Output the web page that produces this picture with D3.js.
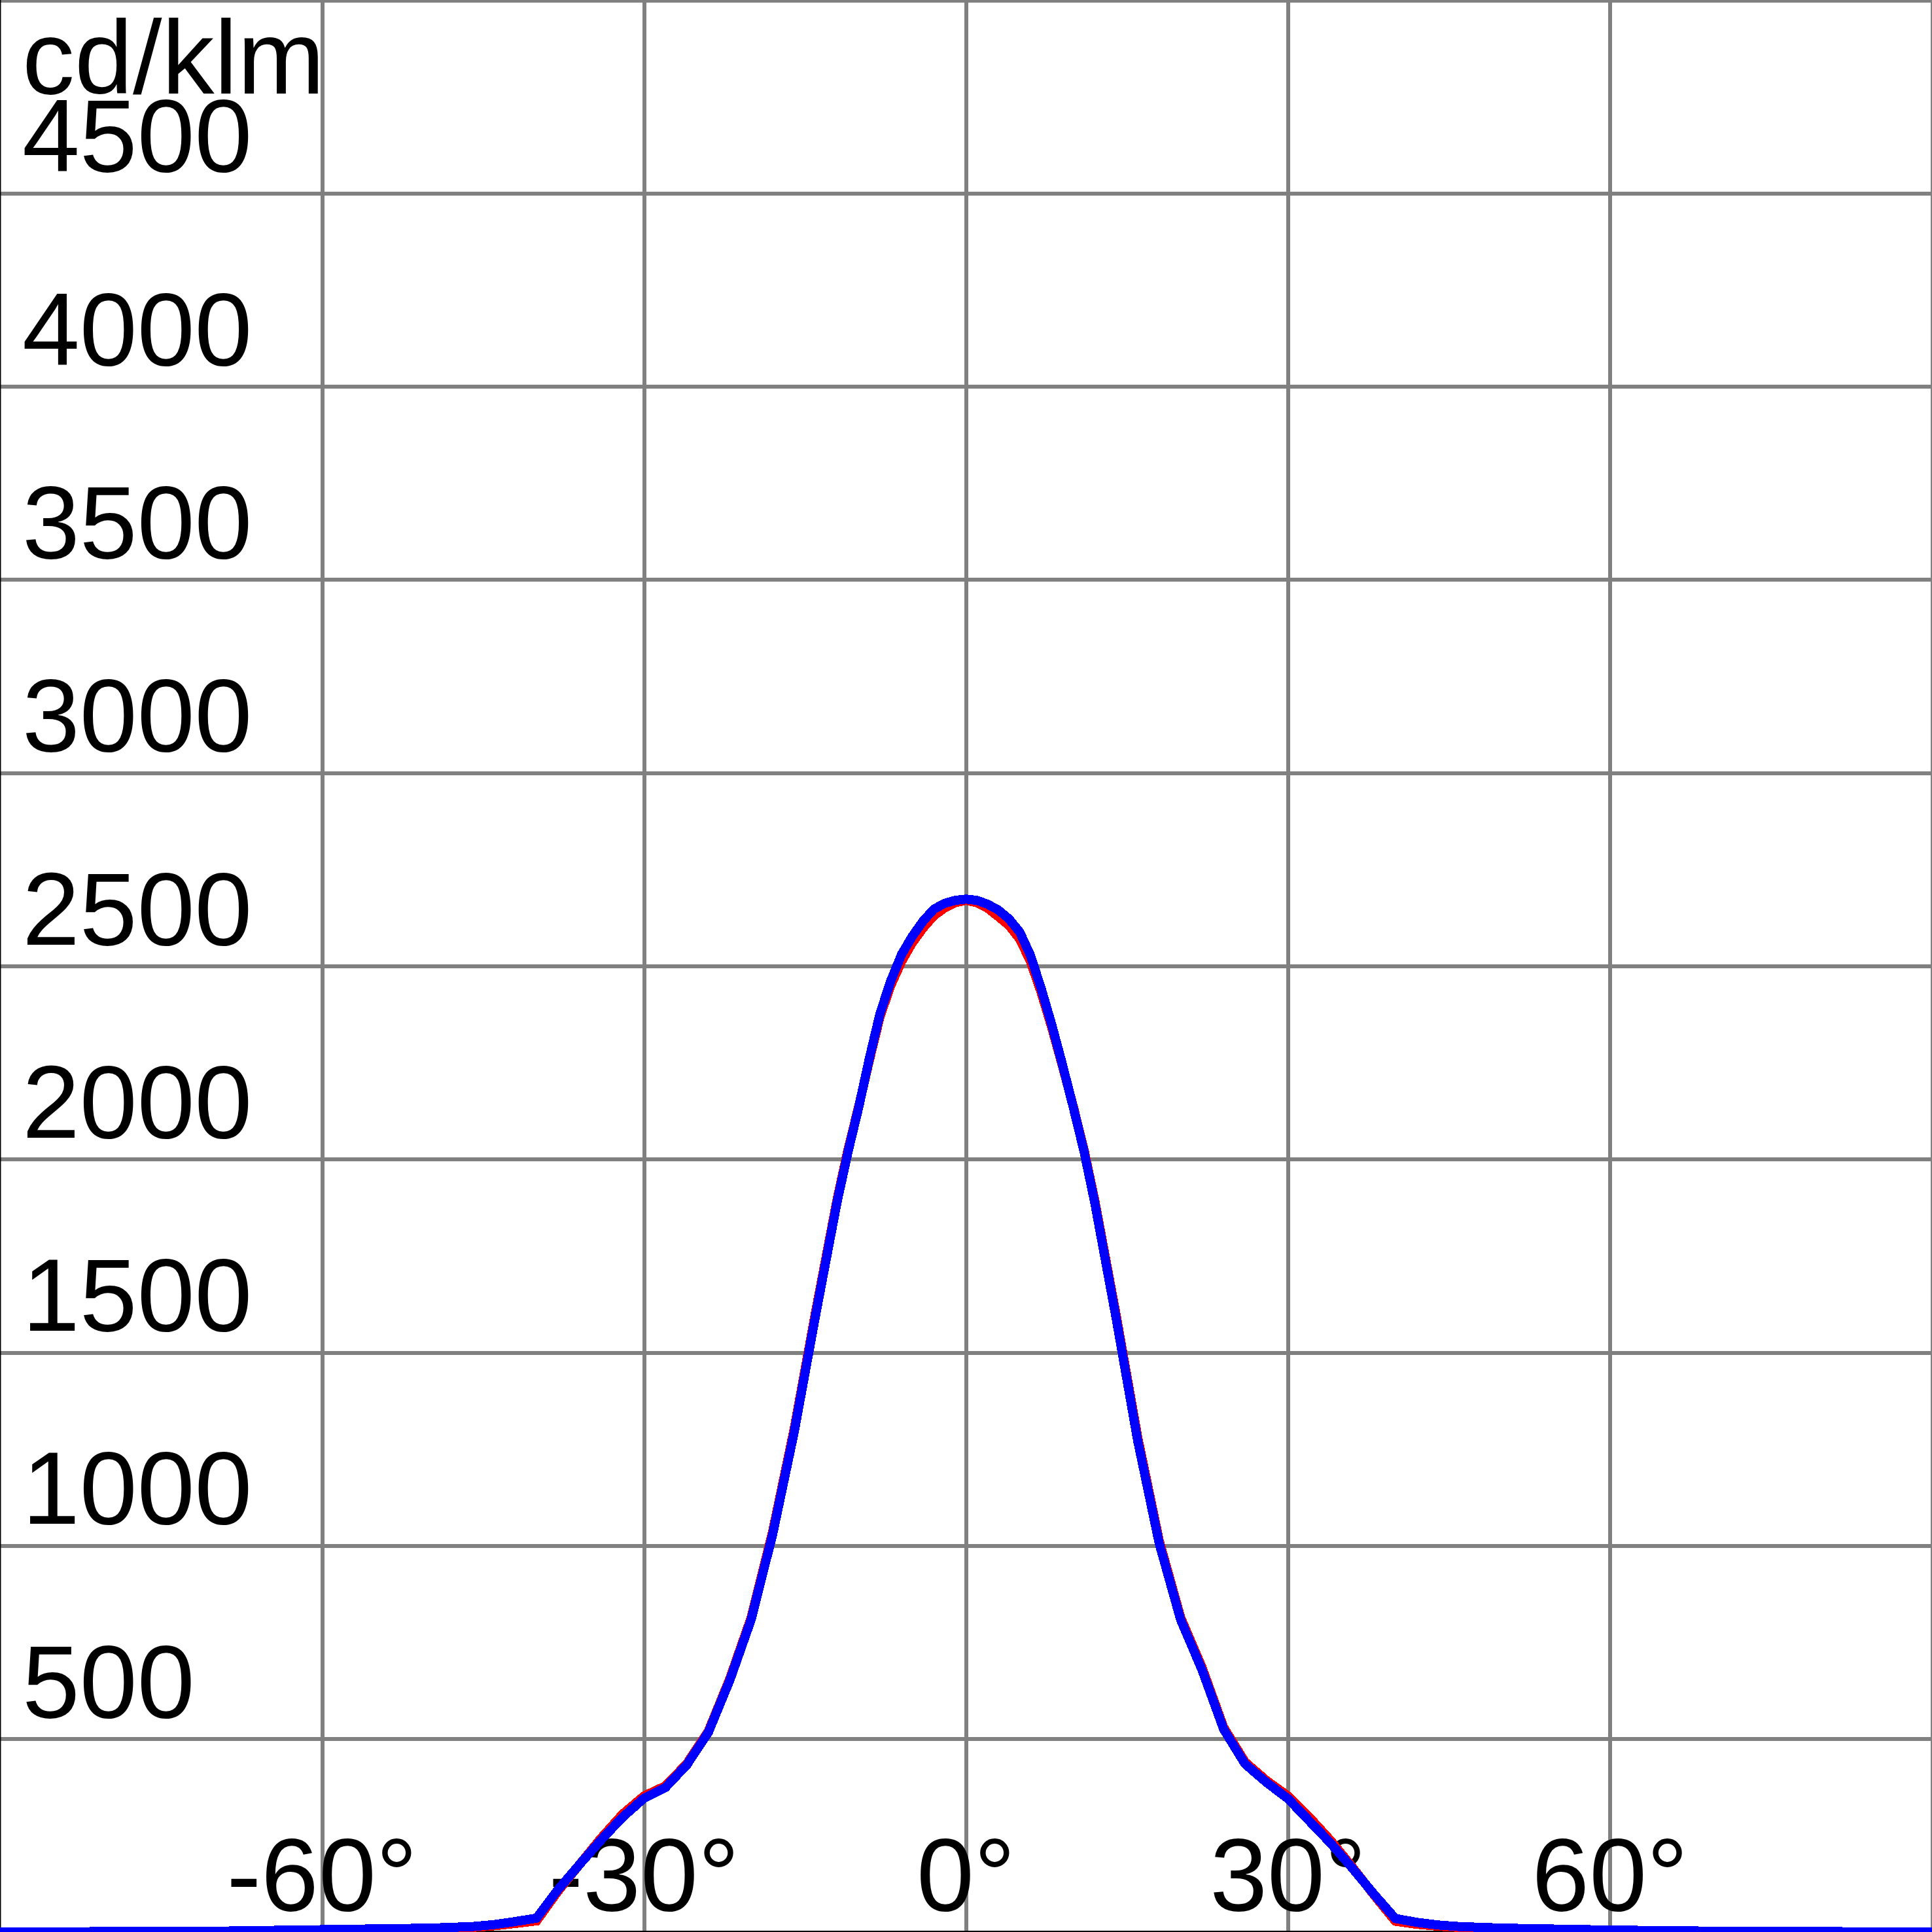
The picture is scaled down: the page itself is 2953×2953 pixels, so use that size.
<!DOCTYPE html>
<html>
<head>
<meta charset="utf-8">
<script src="https://cdn.jsdelivr.net/npm/d3@7/dist/d3.min.js"></script>
<style>
  html, body { margin: 0; padding: 0; background: #fff; }
  svg { display: block; }
</style>
</head>
<body>
<script>
// ---- data ----
const blueAngles = [-90, -80, -70, -60, -50, -46, -44, -42, -40, -38, -36, -34, -32, -30, -28, -26, -24, -22, -20, -18, -16, -14, -12,
  -11, -10, -9, -8, -7, -6, -5, -4, -3, -2, -1, 0, 1, 2, 3, 4, 5, 6, 7, 8, 9, 10, 11,
  12, 14, 16, 18, 20, 22, 24, 26, 28, 30, 32, 34, 36, 38, 40, 42, 44, 46, 50, 60, 70, 80, 90];
const blueValues = [0, 1, 2, 6, 10, 14, 19, 27, 36, 110, 175, 238, 297, 346, 374, 433, 517, 652, 810, 1031, 1295, 1598, 1891,
  2018, 2134, 2261, 2378, 2462, 2530, 2577, 2616, 2647, 2662, 2670, 2673, 2670, 2660, 2645, 2622, 2588, 2528, 2442, 2347, 2243, 2134, 2020,
  1887, 1587, 1271, 1006, 808, 678, 525, 435, 387, 345, 287, 229, 165, 98, 35, 25, 18, 14, 10, 5, 2, 1, 0];
const redAngles = blueAngles;
const redValues = [0, 1, 2, 5, 9, 12, 16, 22, 29, 106, 175, 243, 305, 352, 378, 436, 520, 656, 815, 1038, 1303, 1606, 1897,
  2024, 2136, 2256, 2370, 2450, 2512, 2560, 2598, 2630, 2650, 2664, 2670, 2664, 2650, 2628, 2605, 2570, 2512, 2432, 2340, 2240, 2136, 2024,
  1893, 1595, 1280, 1013, 814, 684, 530, 440, 392, 352, 297, 236, 168, 96, 28, 20, 15, 12, 9, 4, 2, 1, 0];
const xTickValues = [-60, -30, 0, 30, 60];
const xTickLabels = ["-60°", "-30°", "0°", "30°", "60°"];
const yTickValues = [500, 1000, 1500, 2000, 2500, 3000, 3500, 4000, 4500];
const yTickLabels = ["500", "1000", "1500", "2000", "2500", "3000", "3500", "4000", "4500"];
const unitLabel = "cd/klm";

// ---- layout ----
const W = 2953, H = 2953;
const x = d3.scaleLinear().domain([-90, 90]).range([0, W]);
const y = d3.scaleLinear().domain([0, 5000]).range([H, 0]);

const svg = d3.select("body").append("svg")
  .attr("width", W).attr("height", H)
  .style("font-family", "'Liberation Sans', Arial, Helvetica, sans-serif");

svg.append("rect").attr("width", W).attr("height", H).attr("fill", "#fff");

// grid via axes
const gridColor = "#808080";
const vGrid = svg.append("g").attr("transform", `translate(0,${H})`)
  .call(d3.axisBottom(x).tickValues(xTickValues.concat([90])).tickSize(-H).tickFormat(""));
const hGrid = svg.append("g")
  .call(d3.axisRight(y).tickValues(yTickValues.concat([5000])).tickSize(W).tickFormat(""));
[vGrid, hGrid].forEach(g => {
  g.select(".domain").remove();
  g.selectAll(".tick line").attr("stroke", gridColor).attr("stroke-width", 6)
    .attr("shape-rendering", "crispEdges");
});

// left & bottom frame
svg.append("line").attr("x1", 0.5).attr("x2", 0.5).attr("y1", 0).attr("y2", H)
  .attr("stroke", "#000").attr("stroke-width", 2);
svg.append("line").attr("x1", 0).attr("x2", W).attr("y1", H - 1).attr("y2", H - 1)
  .attr("stroke", "#000").attr("stroke-width", 2);

// labels
const fs = 158;
svg.append("g").selectAll("text").data(yTickValues).join("text")
  .attr("x", 34).attr("y", d => y(d) - 33)
  .attr("font-size", fs).attr("fill", "#000")
  .text((d, i) => yTickLabels[i]);
svg.append("text").attr("x", 34).attr("y", 143)
  .attr("font-size", 160).attr("fill", "#000").text(unitLabel);
svg.append("g").selectAll("text").data(xTickValues).join("text")
  .attr("x", d => x(d)).attr("y", 2920)
  .attr("text-anchor", "middle")
  .attr("font-size", fs).attr("fill", "#000")
  .text((d, i) => xTickLabels[i]);

// curves
const line = d3.line().x(d => x(d[0])).y(d => y(d[1]));
svg.append("path")
  .attr("d", line(redAngles.map((a, i) => [a, redValues[i]])))
  .attr("fill", "none").attr("stroke", "#ff0000").attr("stroke-width", 14)
  .attr("stroke-linejoin", "miter").attr("shape-rendering", "crispEdges");
svg.append("path")
  .attr("d", line(blueAngles.map((a, i) => [a, blueValues[i]])))
  .attr("fill", "none").attr("stroke", "#0000ff").attr("stroke-width", 14)
  .attr("stroke-linejoin", "miter").attr("shape-rendering", "crispEdges");
</script>
</body>
</html>
